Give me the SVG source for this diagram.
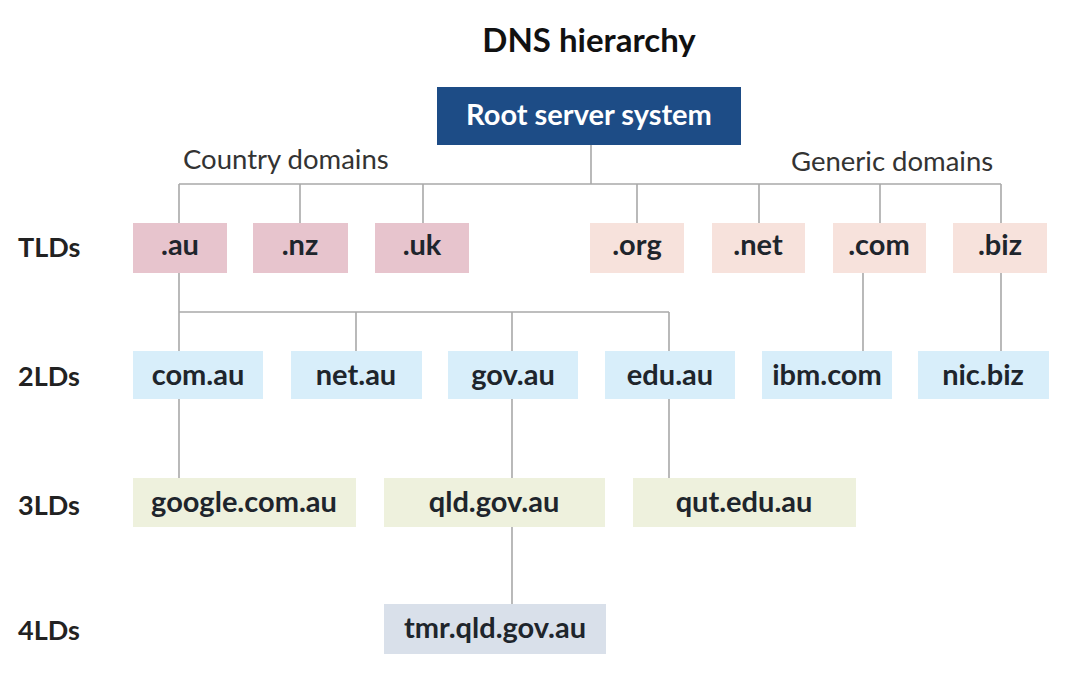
<svg xmlns="http://www.w3.org/2000/svg" width="1066" height="674" viewBox="0 0 1066 674">
<style>
.bg{fill:#ffffff}
.lbl{font-family:Lato,"Open Sans","Liberation Sans",sans-serif;font-weight:700;font-size:29px;fill:#1e252c}
.side{font-family:Lato,"Open Sans","Liberation Sans",sans-serif;font-weight:700;font-size:27px;fill:#222222}
.grp{font-family:Lato,"Open Sans","Liberation Sans",sans-serif;font-weight:400;font-size:27.5px;fill:#333333}
.title{font-family:Lato,"Open Sans","Liberation Sans",sans-serif;font-weight:700;font-size:33px;fill:#111111}
.root{fill:#1d4c86}
.cc{fill:#e7c4cd}
.gen{fill:#f7e2dc}
.l2{fill:#d8eefa}
.l3{fill:#eef1dd}
.l4{fill:#d9e0ea}
.conn{stroke:#a9a9a9;stroke-width:1.6;fill:none}
</style>
<rect class="bg" x="0" y="0" width="1066" height="674"/>
<text class="title" x="589" y="52" text-anchor="middle">DNS hierarchy</text>
<text class="grp" x="183" y="169">Country domains</text>
<text class="grp" x="791" y="171">Generic domains</text>
<text class="side" x="18" y="257">TLDs</text>
<text class="side" x="18" y="386">2LDs</text>
<text class="side" x="18" y="515">3LDs</text>
<text class="side" x="18" y="640">4LDs</text>
<g id="connectors">
<path class="conn" d="M591 145V184M179 184H1001M179 184V223M300 184V223M423 184V223M637 184V223M759 184V223M880 184V223M1001 184V223"/>
<path class="conn" d="M179 273V478M179 312H669M356 312V351M512 312V351M669 312V351"/>
<path class="conn" d="M863 273V351M1001 273V351"/>
<path class="conn" d="M512 399V478M669 399V478M512 527V604"/>
</g>
<g id="root"><rect class="root" x="437" y="87" width="304" height="58"/><text class="lbl" x="589" y="125" text-anchor="middle" style="fill:#ffffff">Root server system</text></g>
<g id="au"><rect class="cc" x="133" y="223" width="94" height="50"/><text class="lbl" x="180" y="255" text-anchor="middle">.au</text></g>
<g id="nz"><rect class="cc" x="253" y="223" width="95" height="50"/><text class="lbl" x="300" y="255" text-anchor="middle">.nz</text></g>
<g id="uk"><rect class="cc" x="375" y="223" width="94" height="50"/><text class="lbl" x="422" y="255" text-anchor="middle">.uk</text></g>
<g id="org"><rect class="gen" x="590" y="223" width="94" height="50"/><text class="lbl" x="637" y="255" text-anchor="middle">.org</text></g>
<g id="net"><rect class="gen" x="712" y="223" width="93" height="50"/><text class="lbl" x="758" y="255" text-anchor="middle">.net</text></g>
<g id="com"><rect class="gen" x="833" y="223" width="93" height="50"/><text class="lbl" x="879" y="255" text-anchor="middle">.com</text></g>
<g id="biz"><rect class="gen" x="953" y="223" width="94" height="50"/><text class="lbl" x="1000" y="255" text-anchor="middle">.biz</text></g>
<g id="com-au"><rect class="l2" x="133" y="351" width="130" height="48"/><text class="lbl" x="198" y="385" text-anchor="middle">com.au</text></g>
<g id="net-au"><rect class="l2" x="291" y="351" width="131" height="48"/><text class="lbl" x="356" y="385" text-anchor="middle">net.au</text></g>
<g id="gov-au"><rect class="l2" x="448" y="351" width="130" height="48"/><text class="lbl" x="513" y="385" text-anchor="middle">gov.au</text></g>
<g id="edu-au"><rect class="l2" x="605" y="351" width="130" height="48"/><text class="lbl" x="670" y="385" text-anchor="middle">edu.au</text></g>
<g id="ibm-com"><rect class="l2" x="762" y="351" width="130" height="48"/><text class="lbl" x="827" y="385" text-anchor="middle">ibm.com</text></g>
<g id="nic-biz"><rect class="l2" x="918" y="351" width="131" height="48"/><text class="lbl" x="983" y="385" text-anchor="middle">nic.biz</text></g>
<g id="google"><rect class="l3" x="133" y="478" width="223" height="49"/><text class="lbl" x="244" y="512" text-anchor="middle">google.com.au</text></g>
<g id="qld"><rect class="l3" x="384" y="478" width="221" height="49"/><text class="lbl" x="494" y="512" text-anchor="middle">qld.gov.au</text></g>
<g id="qut"><rect class="l3" x="633" y="478" width="223" height="49"/><text class="lbl" x="744" y="512" text-anchor="middle">qut.edu.au</text></g>
<g id="tmr"><rect class="l4" x="384" y="604" width="222" height="50"/><text class="lbl" x="495" y="638" text-anchor="middle">tmr.qld.gov.au</text></g>
</svg>
